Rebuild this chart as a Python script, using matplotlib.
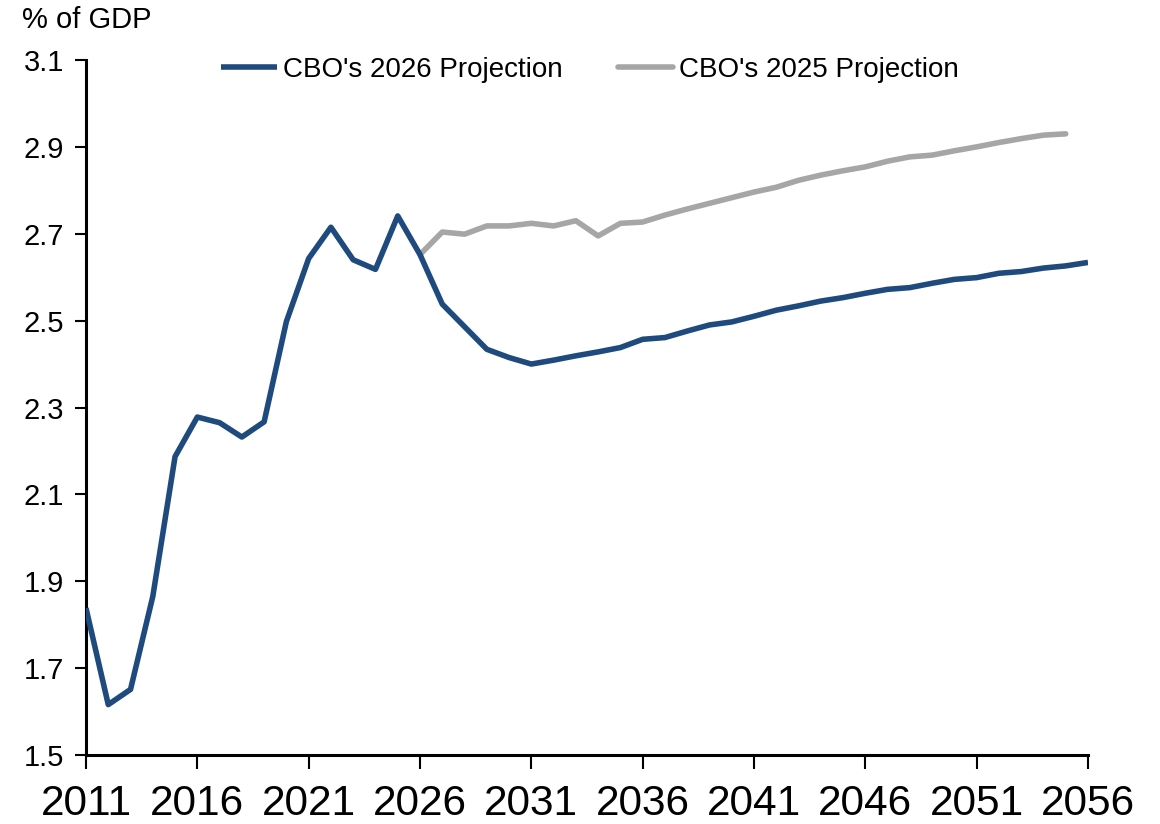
import matplotlib
matplotlib.use("Agg")
import matplotlib.pyplot as plt
from matplotlib import font_manager

years_2026 = list(range(2011, 2057))
cbo_2026 = [1.838, 1.616, 1.651, 1.865, 2.187, 2.278, 2.265, 2.232, 2.267, 2.498,
            2.643, 2.715, 2.640, 2.618, 2.741, 2.652, 2.538, 2.486, 2.434, 2.415,
            2.400, 2.409, 2.419, 2.428, 2.438, 2.457, 2.461, 2.476, 2.490, 2.497,
            2.510, 2.524, 2.534, 2.545, 2.553, 2.563, 2.572, 2.576, 2.586, 2.595,
            2.599, 2.609, 2.613, 2.621, 2.626, 2.634]

years_2025 = list(range(2026, 2056))
cbo_2025 = [2.652, 2.704, 2.699, 2.718, 2.718, 2.724, 2.718, 2.730, 2.695, 2.724,
            2.727, 2.743, 2.757, 2.770, 2.783, 2.796, 2.807, 2.823, 2.835, 2.845,
            2.854, 2.867, 2.877, 2.881, 2.891, 2.900, 2.910, 2.919, 2.927, 2.930]

x_ticks = list(range(2011, 2057, 5))
y_ticks = [1.5, 1.7, 1.9, 2.1, 2.3, 2.5, 2.7, 2.9, 3.1]
y_labels = ["1.5", "1.7", "1.9", "2.1", "2.3", "2.5", "2.7", "2.9", "3.1"]

names = {f.name for f in font_manager.fontManager.ttflist}
base_font = "Liberation Sans" if "Liberation Sans" in names else "DejaVu Sans"
plt.rcParams["font.family"] = [base_font, "DejaVu Sans"]

fig = plt.figure(figsize=(11.6, 8.24), dpi=100)
ax = fig.add_axes([86/1160, 1-755/824, (1088-86)/1160, (755-60)/824])

blue = "#1F4A7E"
gray = "#A6A6A6"
ax.plot(years_2025, cbo_2025, color=gray, lw=4.0, solid_capstyle="round",
        label="CBO's 2025 Projection", zorder=2)
ax.plot(years_2026, cbo_2026, color=blue, lw=4.0, solid_capstyle="butt",
        label="CBO's 2026 Projection", zorder=3)

ax.set_xlim(2011, 2056)
ax.set_ylim(1.5, 3.1)
ax.set_yticks(y_ticks)
ax.set_yticklabels(y_labels, fontsize=21)
ax.set_xticks(x_ticks)
ax.set_xticklabels([str(t) for t in x_ticks], fontsize=30.5)
ax.tick_params(axis="y", direction="out", length=8, width=1.5, pad=8, colors="black")
ax.tick_params(axis="x", direction="out", length=10, width=1.5, pad=11, colors="black")
for s in ["top", "right"]:
    ax.spines[s].set_visible(False)
for s in ["left", "bottom"]:
    ax.spines[s].set_linewidth(2.2)
    ax.spines[s].set_color("black")

h, l = ax.get_legend_handles_labels()
leg = ax.legend(h[::-1], l[::-1], loc="upper center", bbox_to_anchor=(0.503, 1.04), ncol=2,
                frameon=False, fontsize=20, handlelength=2.0, handletextpad=0.2,
                columnspacing=2.0)

fig.text(22/1160, 1-20/824, "% of GDP", fontsize=21, ha="left", va="center")

fig.savefig("out.png", dpi=100)
